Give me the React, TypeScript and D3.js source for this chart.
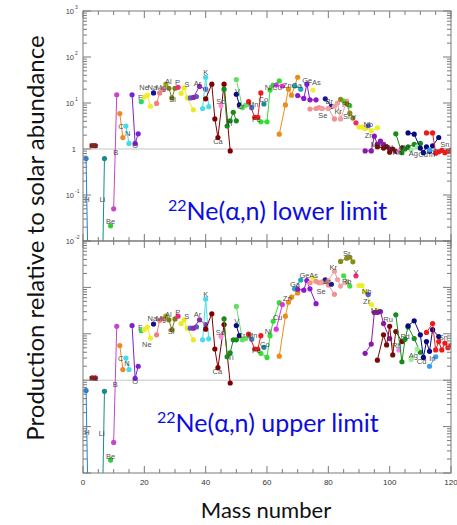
import React from "react";
import * as d3 from "d3";

// ---- data -------------------------------------------------------------
const elements = ["H","He","Li","Be","B","C","N","O","F","Ne","Na","Mg","Al","Si","P","S","Cl","Ar","K","Ca","Sc","Ti","V","Cr","Mn","Fe","Co","Ni","Cu","Zn","Ga","Ge","As","Se","Br","Kr","Rb","Sr","Y","Zr","Nb","Mo","Ru","Rh","Pd","Ag","Cd","In","Sn","Sb"];

const elementColors = ["#1f7fd6","#a51c1c","#1a8a8a","#33cc33","#c845c8","#ee8822","#44dde3","#7a22cc","#2fd36a","#eeee2a","#12129a","#f08080","#9aab1f","#7a7a1a","#ee2a7a","#eaea22","#5a5ad0","#8a2aaa","#44dde8","#800000","#ff88dd","#1a8a1a","#0a0a80","#66dd66","#2a7ae0","#ee1a1a","#1a8a9a","#33dd33","#dd33dd","#ee8c1a","#1aaab8","#8a1acc","#eeee33","#f09090","#1a1a90","#f0a0a0","#44dd44","#8a8a1a","#ee2a7a","#eeee22","#5a5ad0","#8a1aaa","#7a0a0a","#ee88ee","#1a8a1a","#99ee99","#0a0a80","#3a9aee","#ee1a1a","#33dd33"];

const isotopeMasses = [
  [1,2],[3,4],[6,7],[9],[10,11],[12,13],[14,15],[16,17,18],[19],[20,21,22],
  [23],[24,25,26],[27],[28,29,30],[31],[32,33,34,36],[35,37],[36,38,40],[39,40,41],[40,42,43,44,46,48],
  [45],[46,47,48,49,50],[50,51],[50,52,53,54],[55],[54,56,57,58],[59],[58,60,61,62,64],[63,65],[64,66,67,68,70],
  [69,71],[70,72,73,74,76],[75],[74,76,77,78,80,82],[79,81],[78,80,82,83,84,86],[85,87],[84,86,87,88],[89],[90,91,92,94,96],
  [93],[92,94,95,96,97,98,100],[96,98,99,100,101,102,104],[103],[102,104,105,106,108,110],[107,109],[106,108,110,111,112,113,114,116],[113,115],[112,114,115,116,117,118,119,120,122,124],[121,123]
];

// production factors, 22Ne(a,n) lower limit
const lowerValues = [
  [0.62,0.0001],[1.18,1.18],[0.0001,0.62],[0.0214],[0.05,15.1],[5.9,1.78],[3.16,1.32],[15.1,1.32,2.14],[10.7],[13.5,14.8,8.5],
  [16.6],[9.8,16.6,20],[25.7],[20.9,12.9,20.9],[21.9],[16.2,21.4,12.9,7.1],[12.9,13.8],[13.2,22.9,20],[7.6,36.3,8.3],[12.3,25.7,4.5,1.78,25.7,0.91],
  [8.7],[20,3.16,4.1,6.3,4.1],[15.5,9.1],[32.4,7.9,8.9,10],[7.9],[10.7,4.9,4.9,16.6],[9.5],[3.9,3.9,19.1,24.5,30.2],[24.5,23.4],[2.1,9.1,20,14.8,36.3],
  [23.4,20],[14.5,12.6,25.7,11.7,11.7],[19.1],[7.4,7.6,7.9,7.6,7.6,4.5],[12.3,8.5],[7.6,7.6,8.5,10,4.5,11],[11,8.7],[12,9.8,6.0,4.7],[3.7],[3.0,3.0,2.8,2.5,2.9],
  [3.2],[0.91,0.91,1.9,1.26,1.48,1.26,1.0],[1.12,1.05,1.12,0.85,1.0,0.89,1.05],[0.89],[2.14,0.83,1.0,1.12,1.26,1.32],[0.95,1.12],[2.24,2.1,1.05,0.83,1.12,0.89,1.17,1.78],[0.95,0.89],[2.24,2.24,0.81,0.87,0.93,0.83,0.89,0.95,1.07,1.15],[2.8,2.5]
];

// production factors, 22Ne(a,n) upper limit
const upperValues = [
  [0.6,0.0001],[1.12,1.12],[0.0001,0.575],[0.019],[0.0457,14.5],[5.6,1.7],[3.0,1.7],[15.1,1.1,2.0],[11.7],[12.3,14,8.1],
  [16.2],[9.5,19.5,20.9],[24],[20,12.3,20.9],[24],[16.6,20,13.2,7.4],[13.2,14.1],[13.2,20,15.8],[7.4,56,7.8],[12.6,26.9,4.7,1.86,15.8,0.87],
  [8.7],[20.9,3.2,3.9,7.4,7.4],[15.1,9.1],[38.9,7.4,7.9,8.9],[7.6],[9.8,4.7,4.7,9.1],[5.1],[3.8,3.1,9.1,18.6,46.8],[12.6,42.7],[3.3,24,47.9,61.7,75.9],
  [93.3,144.5],[91.2,87.1,141,93.3,44.7],[158],[126,135,126,132,112,70.8],[145,117],[126,141,224,148,107,126],[178,107],[363,427,447,355],[178],[110,110,79.4,42.7,31.6],
  [70],[3.8,6.0,28.8,28.8,30.2,16.6,7.9],[2.7,9.5,5.75,14.5,3.5,11.2,6.8],[4.5],[25.7,2.5,7.6,14.1,7.9,4.0],[2.8,4.7],[14.8,19.1,9.5,3.1,6.8,4.2,12.3,8.7],[2.0,3.2],[10.7,16.6,4.5,6.8,4.5,6.3,5.0,5.6,4.8,5.2],[14.8,10]
];

// element label anchors [mass, value] (null = no label)
const lowerLabels: ([number, number] | null)[] = [
  [1.3,0.081],[3.5,1.18],[6.3,0.079],[9,0.0263],[10.7,0.85],[12.4,3.16],[14.6,2.14],[17,1.17],[18.7,13.2],[19.9,21.4],
  [22.6,21.4],[25.4,21.4],[27.8,29.5],[29.2,11.7],[30.8,28.5],[33.9,25.1],null,[37.3,26.9],[40,45.7],[44,1.45],
  [44.9,10.7],[47.7,3.6],[50.4,17.8],[51.4,8.3],[55.5,9.5],[56.5,4.3],[58.8,11.7],[60.4,21.9],[63.3,21.9],[66.6,24.5],
  [69.8,24.5],[73.1,31.6],[76.1,28.5],[78.2,5.5],[80.3,10.7],[83.2,6.5],[86,9.3],[86,5.2],[88.3,4.8],[93,1.95],
  [93,3.35],[95.5,1.23],[99.5,1.15],[102.5,0.85],[105,1.1],[107.7,0.81],[110.9,0.75],[113.8,0.76],[118,1.26],null
];
const upperLabels: ([number, number] | null)[] = [
  [1.3,0.076],[3.5,1.12],[6.1,0.072],[9,0.0224],[10.5,0.81],[12.3,3.0],[14.3,2.3],[17,0.95],[18.7,14.1],[20.8,6.0],
  [22.6,21.4],[25.4,21.4],[27.8,25.7],[28.7,11.2],[30.9,29.5],[33.8,24],null,[37.3,25.7],[40,72.4],[43.8,1.58],
  [44.7,10.7],[48.2,3.16],[50.1,18.6],[51.7,9.1],[55.2,9.1],[56.5,4.5],[59.3,6.0],[60.4,11.2],[63.4,22.9],[66.6,57.5],
  [69.1,117],[72.2,178],[75.2,178],[77.6,83],[79.5,138],[81.6,269],[86,132],[86,537],[89,214],[92.5,49],
  [92.5,84],[95.5,31.6],[99.5,20],[102.3,5.5],[105,8.7],[107.7,3.5],[110.4,2.5],[113.9,2.95],[117.5,8.5],null
];

const xTickLabels = [0, 20, 40, 60, 80, 100, 120];
const yDecades = [-2, -1, 0, 1, 2, 3];

// ---- layout -------------------------------------------------------------
const W = 457, H = 525;
const X0 = 83, X1 = 451;
const panels = [
  { key: "lower", top: 11, bottom: 241, values: lowerValues, labels: lowerLabels, title: "lower limit", textX: 168, textY: 220, yLabels: true, xLabels: false },
  { key: "upper", top: 241, bottom: 473, values: upperValues, labels: upperLabels, title: "upper limit", textX: 157, textY: 432, yLabels: false, xLabels: true },
];

const x = d3.scaleLinear().domain([0, 120]).range([X0, X1]);
const LABEL_FONT = "Liberation Sans, Arial, sans-serif";
const TITLE_FONT = "Lato, 'Open Sans', sans-serif";

function Panel({ p }: { p: typeof panels[number] }) {
  const y = d3.scaleLog().domain([1e-2, 1e3]).range([p.bottom, p.top]);
  const line = d3.line<[number, number]>().x(d => x(d[0])).y(d => y(d[1]));
  const clipId = `clip-${p.key}`;
  const xMinor = d3.range(0, 121, 5);
  const yTicks: { v: number; major: boolean }[] = [];
  yDecades.forEach(e => {
    yTicks.push({ v: Math.pow(10, e), major: true });
    if (e < 3) for (let k = 2; k <= 9; k++) yTicks.push({ v: k * Math.pow(10, e), major: false });
  });
  const frame = "#7a7a7a";
  return (
    <g>
      <defs>
        <clipPath id={clipId}>
          <rect x={X0} y={p.top} width={X1 - X0} height={p.bottom - p.top} />
        </clipPath>
      </defs>
      <line x1={X0} x2={X1} y1={y(1)} y2={y(1)} stroke="#c4c4c4" strokeWidth={1} />
      <g clipPath={`url(#${clipId})`}>
        {elements.map((el, i) => {
          const pts: [number, number][] = isotopeMasses[i].map((m, j) => [m, p.values[i][j]]);
          return (
            <g key={el}>
              {pts.length > 1 && (
                <path d={line(pts) || ""} fill="none" stroke={elementColors[i]} strokeWidth={1} />
              )}
              {pts.filter(d => d[1] > 1e-3).map((d, j) => (
                <circle key={j} cx={x(d[0])} cy={y(d[1])} r={2.6} fill={elementColors[i]} />
              ))}
            </g>
          );
        })}
        {elements.map((el, i) => {
          const lb = p.labels[i];
          if (!lb) return null;
          return (
            <text key={"l" + el} x={x(lb[0])} y={y(lb[1])} dy="0.35em" textAnchor="middle"
              fontFamily={LABEL_FONT} fontSize={7.5} fill="#333" fillOpacity={0.9}>
              {el}
            </text>
          );
        })}
      </g>
      <rect x={X0} y={p.top} width={X1 - X0} height={p.bottom - p.top} fill="none" stroke={frame} strokeWidth={1} />
      {xMinor.map(v => {
        const len = v % 20 === 0 ? 7 : 4;
        return (
          <g key={"xt" + v}>
            <line x1={x(v)} x2={x(v)} y1={p.bottom} y2={p.bottom - len} stroke={frame} />
            <line x1={x(v)} x2={x(v)} y1={p.top} y2={p.top + len} stroke={frame} />
          </g>
        );
      })}
      {yTicks.map((t, k) => {
        const len = t.major ? 8 : 4;
        return (
          <g key={"yt" + k}>
            <line x1={X0} x2={X0 + len} y1={y(t.v)} y2={y(t.v)} stroke={frame} />
            <line x1={X1} x2={X1 - len} y1={y(t.v)} y2={y(t.v)} stroke={frame} />
          </g>
        );
      })}
      {p.yLabels && yDecades.map(e => (
        <text key={"yl" + e} x={e === 0 ? 76 : 74} y={y(Math.pow(10, e))} dy="0.35em" textAnchor="end"
          fontFamily={LABEL_FONT} fontSize={7.5} fill="#444">
          {e === 0 ? "1" : "10"}
        </text>
      ))}
      {p.yLabels && yDecades.filter(e => e !== 0).map(e => (
        <text key={"ye" + e} x={75} y={y(Math.pow(10, e)) - 2} textAnchor="start"
          fontFamily={LABEL_FONT} fontSize={5} fill="#444">
          {e}
        </text>
      ))}
      {p.xLabels && xTickLabels.map(v => (
        <text key={"xl" + v} x={x(v)} y={p.bottom + 12} textAnchor="middle"
          fontFamily={LABEL_FONT} fontSize={8} fill="#333">
          {v}
        </text>
      ))}
      <text x={p.textX} y={p.textY} fontFamily={TITLE_FONT} fill="#0c0ce0">
        <tspan fontSize={16} dy={-9}>22</tspan>
        <tspan fontSize={25} dy={9}>{`Ne(α,n) ${p.title}`}</tspan>
      </text>
    </g>
  );
}

export default function App() {
  return (
    <svg width={W} height={H} style={{ position: "absolute", left: 0, top: 0, background: "#fff" }}>
      <rect width={W} height={H} fill="#fff" />
      {panels.map(p => <Panel key={p.key} p={p} />)}
      <text transform="translate(44,238) rotate(-90)" textAnchor="middle"
        fontFamily={TITLE_FONT} fontSize={24} fill="#111">
        Production relative to solar abundance
      </text>
      <text x={266} y={518} textAnchor="middle" fontFamily={TITLE_FONT} fontSize={22} fill="#111">
        Mass number
      </text>
    </svg>
  );
}
